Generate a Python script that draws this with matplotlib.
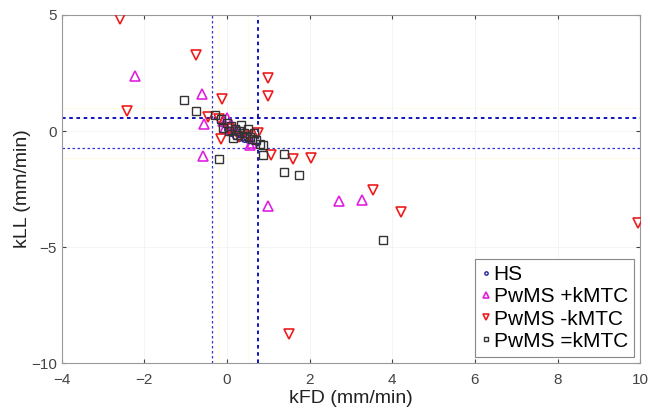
import matplotlib.pyplot as plt

plt.rcParams['font.family'] = ['Liberation Sans', 'DejaVu Sans']

# healthy subjects (all inside the central cluster)
hs_x = [0.0, 0.1, 0.2, 0.3, 0.15, 0.35, 0.4, 0.05, 0.25, 0.5, -0.1, 0.45]
hs_y = [0.1, -0.1, -0.2, -0.3, 0.05, -0.15, -0.35, -0.05, 0.15, -0.4, 0.3, -0.25]

# PwMS +kMTC
pos_x = [-2.22, -0.61, -0.56, -0.59, 1.0, 2.7, 3.27, 0.55, -0.1, 0.0, 0.1, -0.05, 0.2, 0.6]
pos_y = [2.38, 1.6, 0.3, -1.07, -3.25, -3.0, -2.95, -0.6, 0.45, 0.55, 0.3, 0.15, 0.05, -0.5]

# PwMS -kMTC
neg_x = [-2.59, -0.76, 0.98, 0.98, -2.41, -0.12, -0.45, -0.15, 0.76, 1.07, 1.59, 2.02, 3.54, 4.2,
         9.95, 1.51, 0.05, 0.3, -0.2, 0.5]
neg_y = [4.83, 3.26, 2.3, 1.51, 0.86, 1.38, 0.6, -0.35, -0.1, -1.02, -1.2, -1.15, -2.55, -3.5,
         -3.95, -8.75, 0.1, -0.25, 0.5, -0.2]

# PwMS =kMTC
eq_x = [-1.05, -0.76, -0.2, 0.88, 1.39, 1.37, 1.73, 3.78, 0.88, -0.3, -0.15, 0.0, 0.1, 0.2,
        0.3, 0.4, 0.45, 0.55, 0.6, 0.7, 0.25, 0.05, -0.1, 0.35, 0.5, 0.15, 0.65, 0.8]
eq_y = [1.35, 0.86, -1.2, -1.02, -0.97, -1.76, -1.9, -4.7, -0.58, 0.7, 0.5, 0.35, 0.2, 0.1,
        0.0, -0.1, -0.2, -0.25, -0.35, -0.4, -0.15, 0.0, 0.15, 0.25, 0.1, -0.3, -0.1, -0.55]

# reference lines
v_lines = [-0.37, 0.76]
h_lines = [0.56, -0.73]

fig = plt.figure(figsize=(6.5, 4.16), dpi=100)
ax = fig.add_axes([0.095, 0.127, 0.89, 0.837])

for x in [-0.22, 0.5]:
    ax.axvline(x, color='#fffbe0', lw=0.6, zorder=0)
for y in [0.99, -1.16]:
    ax.axhline(y, color='#fffbe0', lw=0.6, zorder=0)

ax.axvline(v_lines[0], color='#3333dd', lw=0.9, ls=(0, (2, 2)), zorder=1)
ax.axvline(v_lines[1], color='#0000bb', lw=1.3, ls=(0, (2, 2)), zorder=1)
ax.axhline(h_lines[0], color='#0000bb', lw=1.3, ls=(0, (2, 2)), zorder=1)
ax.axhline(h_lines[1], color='#3333dd', lw=0.9, ls=(0, (2, 2)), zorder=1)

ax.plot(hs_x, hs_y, 'o', mfc='none', mec='#2020a0', ms=4, mew=1.0, label='HS', zorder=3)
ax.plot(pos_x, pos_y, '^', mfc='none', mec='#e020e0', ms=7, mew=1.2, label='PwMS +kMTC', zorder=3)
ax.plot(neg_x, neg_y, 'v', mfc='none', mec='#ee1c1c', ms=7, mew=1.2, label='PwMS -kMTC', zorder=3)
ax.plot(eq_x, eq_y, 's', mfc='none', mec='#333333', ms=5.5, mew=1.0, label='PwMS =kMTC', zorder=4)

ax.set_xlim(-4, 10)
ax.set_ylim(-10, 5)
ax.set_xticks(range(-4, 11, 2))
ax.set_yticks([-10, -5, 0, 5])
ax.grid(True, color='#f2f2f2', lw=0.6)
ax.set_axisbelow(True)
ax.tick_params(direction='in', top=True, right=True, labelsize=11, colors='#444444',
               labelcolor='#444444', length=3)
ax.tick_params(axis='x', pad=7)
for s in ax.spines.values():
    s.set_color('#999999')
    s.set_linewidth(0.8)

ax.set_xlabel('kFD (mm/min)', fontsize=14, color='#222222', labelpad=2)
ax.set_ylabel('kLL (mm/min)', fontsize=14, color='#222222', labelpad=0)

leg = ax.legend(loc='lower right', fontsize=15, handlelength=0.45, handletextpad=0.15,
                borderpad=0.3, labelspacing=0.15, fancybox=False, framealpha=1,
                markerscale=0.6, borderaxespad=0.3)
leg.get_frame().set_edgecolor('#888888')
leg.get_frame().set_linewidth(0.8)

fig.savefig('out.png', dpi=100)
